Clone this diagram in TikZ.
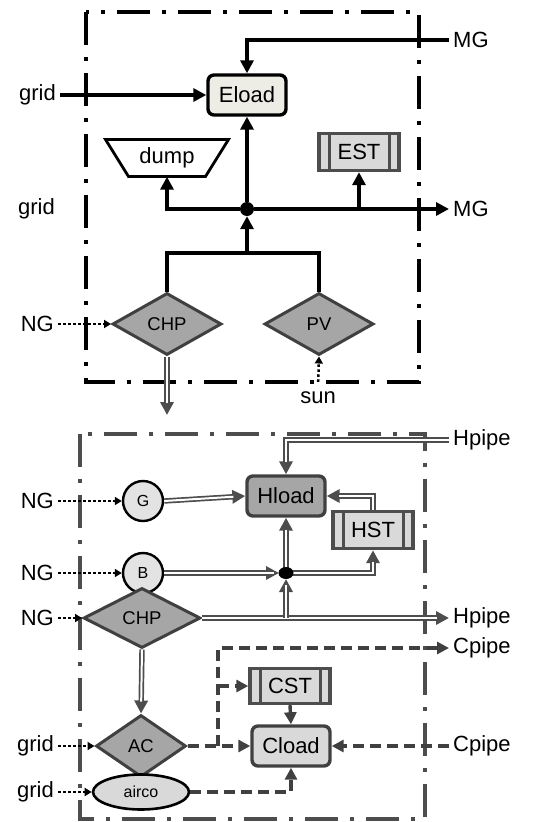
\documentclass[tikz,border=0pt]{standalone}
\usepackage{fontspec}
\setmainfont{Liberation Sans}
\usetikzlibrary{arrows.meta,shapes.geometric,calc}
\definecolor{dk}{HTML}{404040}
\definecolor{hg}{HTML}{4D4D4D}
\definecolor{dfill}{HTML}{A6A6A6}
\definecolor{lfill}{HTML}{D9D9D9}
\definecolor{cfill}{HTML}{E3E3E3}
\definecolor{efill}{HTML}{EEEDE5}
\tikzset{
  big/.style={font=\fontsize{22}{25}\selectfont},
  lbl/.style={big, inner sep=4pt},
  tbox/.style={line width=4pt, dash pattern=on 33pt off 12pt on 4pt off 12pt},
  bbox/.style={draw=hg, line width=3.6pt, dash pattern=on 33pt off 12pt on 4pt off 12pt},
  eline/.style={line width=3.6pt, -{Triangle[length=13pt,width=13pt]}},
  eplain/.style={line width=3.6pt},
  dotline/.style={line width=2.5pt, dash pattern=on 2.5pt off 2.5pt, -{Triangle[length=7pt,width=8pt]}},
  hline/.style={draw=hg, line width=5.4pt, -{Triangle[length=13pt,width=13pt]},
    postaction={draw=white, line width=2pt, -, shorten >=12pt}},
  cline/.style={draw=dk, line width=3.4pt, dash pattern=on 11pt off 6pt, -{Triangle[length=12pt,width=12pt,fill=dk]}},
  dia/.style={diamond, draw=dk, fill=dfill, line width=3pt, inner sep=0pt, font=\fontsize{18.5}{20}\selectfont},
  circ/.style={circle, draw=black, fill=cfill, line width=2.4pt, minimum size=40pt, inner sep=0pt, font=\fontsize{16}{18}\selectfont},
  load/.style={rectangle, rounded corners=6pt, line width=3.4pt, minimum width=78pt, minimum height=40pt, big},
  store/.style={rectangle, draw=hg, fill=lfill, line width=3.4pt, minimum width=80pt, minimum height=37pt, big,
    path picture={
      \draw[hg, line width=3pt] ([xshift=10pt]path picture bounding box.north west) -- ([xshift=10pt]path picture bounding box.south west);
      \draw[hg, line width=3pt] ([xshift=-10pt]path picture bounding box.north east) -- ([xshift=-10pt]path picture bounding box.south east);
    }},
}
\begin{document}
\begin{tikzpicture}[x=1pt,y=-1pt]
\useasboundingbox (0,0) rectangle (536,822);
% ---------- electricity part ----------
\draw[tbox] (86,12) rectangle (419,382);
\node[load, draw=black, fill=efill] (eload) at (247,95) {Eload};
\node[lbl, anchor=west] (mg1) at (449,40) {MG};
\node[lbl, anchor=east] (grid1) at (60,95) {grid};
\node[lbl, anchor=east] (grid2) at (59,209) {grid};
\node[lbl, anchor=west] (mg2) at (449,209) {MG};
\node[big, minimum width=77pt, minimum height=37pt, inner sep=0pt] (dump) at (167,158) {dump};
\draw[line width=2.8pt, line join=miter] ($(dump.center)+(-61.5,-18.5)$) -- ($(dump.center)+(61.5,-18.5)$) -- ($(dump.center)+(38.5,18.5)$) -- ($(dump.center)+(-38.5,18.5)$) -- cycle;
\node[store] (est) at (359,152) {EST};
\node[circle, fill=black, inner sep=0pt, minimum size=14pt] (junc) at (247,209) {};
\node[dia, minimum width=109pt, minimum height=62pt] (chp1) at (167,324) {CHP};
\node[dia, minimum width=109pt, minimum height=62pt] (pv) at (319,324) {PV};
\node[lbl, anchor=east] (ng1) at (58,324) {NG};
\node[lbl] (sun) at (318,398) {sun};
\coordinate (split) at (247,253);
\coordinate (heatout) at (167,415);

\draw[eline] (mg1.west) -| (eload.north);
\draw[eline] (grid1.east) -- (eload.west);
\draw[eline] (junc) -- (eload.south);
\draw[eline] (junc) -| (dump.south);
\draw[eline] (junc) -- (mg2.west);
\draw[eline] (est.south |- junc) -- (est.south);
\draw[eplain] (chp1.north) |- (split) -| (pv.north);
\draw[eline] (split) -- (junc);
\draw[dotline] (ng1.east) -- (chp1.west);
\draw[dotline, shorten <=6pt] (sun.north) -- (pv.south);
\draw[hline] (chp1.south) -- (heatout);

% ---------- heat & cooling part ----------
\draw[bbox] (80,434) rectangle (425,819);
\node[load, draw=dk, fill=dfill] (hload) at (286,496) {Hload};
\node[lbl, anchor=west] (hp1) at (449,440) {Hpipe};
\node[circ] (g) at (143,501) {G};
\node[lbl, anchor=east] (ngg) at (58,501) {NG};
\node[store] (hst) at (373,530) {HST};
\node[circ] (b) at (143,573) {B};
\node[lbl, anchor=east] (ngb) at (58,573) {NG};
\node[dia, minimum width=117pt, minimum height=60pt] (chp2) at (142,618) {CHP};
\node[lbl, anchor=east] (ngc) at (58,618) {NG};
\node[lbl, anchor=west] (hp2) at (449,618) {Hpipe};
\coordinate (hjc) at (286,573);

\draw[hline] (hp1.west) -| (hload.north);
\draw[dotline] (ngg.east) -- (g.west);
\draw[hline] (g.east) -- (hload.west);
\draw[hline] (hst.north) |- (hload.east);
\draw[dotline] (ngb.east) -- (b.west);
\draw[dotline] (ngc.east) -- (chp2.west);
\draw[hline] (chp2.east) -- (hp2.west);
\draw[hline, shorten >=6pt] (hjc |- chp2.east) -- (hjc);
\draw[hline, shorten >=7pt] (b.east) -- (hjc);
\draw[hline, shorten <=5pt] (hjc) -- (hload.south);
\draw[hline, shorten <=7pt] (hjc) -| (hst.south);
\node[ellipse, fill=black, inner sep=0pt, minimum width=15pt, minimum height=12pt] (hj) at (hjc) {};

\node[dia, minimum width=90pt, minimum height=62pt] (ac) at (141,746) {AC};
\node[ellipse, draw=black, fill=lfill, line width=2.6pt, minimum width=96pt, minimum height=35pt, inner sep=0pt, font=\fontsize{16}{18}\selectfont] (airco) at (141,792) {airco};
\node[lbl, anchor=east] (gra) at (58,746) {grid};
\node[lbl, anchor=east] (grb) at (58,792) {grid};
\node[load, draw=dk, fill=lfill] (cload) at (291,746) {Cload};
\node[store, minimum height=35pt] (cst) at (290,686) {CST};
\node[lbl, anchor=west] (cp1) at (449,648) {Cpipe};
\node[lbl, anchor=west] (cp2) at (449,746) {Cpipe};
\coordinate (csplit) at (218,746);

\draw[hline] (chp2.south) -- (ac.north);
\draw[dotline] (gra.east) -- (ac.west);
\draw[dotline] (grb.east) -- (airco.west);
\draw[cline] (ac.east) -- (cload.west);
\draw[cline] (csplit) |- (cp1.west);
\draw[cline] (csplit |- cst.west) -- (cst.west);
\draw[cline] (cst.south) -- (cload.north);
\draw[cline] (cp2.west) -- (cload.east);
\draw[cline] (airco.east) -| (cload.south);
\end{tikzpicture}
\end{document}
